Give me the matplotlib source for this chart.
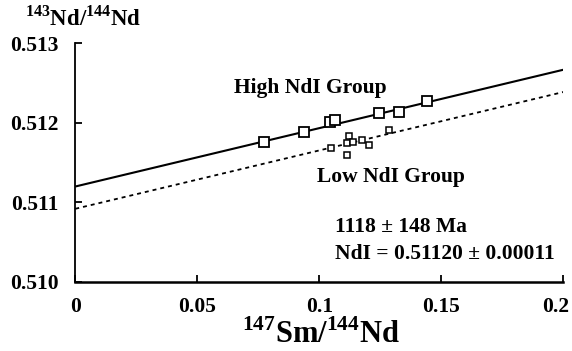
import numpy as np
import matplotlib
matplotlib.use("Agg")
import matplotlib.pyplot as plt
from matplotlib.transforms import ScaledTranslation

# Sm-Nd isochron data
high_x = [0.0774, 0.0937, 0.1045, 0.1064, 0.1245, 0.1328, 0.1440]
high_y = [0.51176, 0.51188, 0.51201, 0.51204, 0.51212, 0.51214, 0.51227]
low_x = [0.1047, 0.1121, 0.1114, 0.1139, 0.1174, 0.1205, 0.1114, 0.1284]
low_y = [0.51169, 0.51183, 0.51175, 0.51176, 0.51178, 0.51172, 0.51160, 0.51191]

age_ma = 1118
age_err = 148
ndi_high = 0.51120
ndi_err = 0.00011
ndi_low = 0.51092
decay_const = 6.54e-12  # 147Sm decay constant (1/yr)

x_ticks = [0, 0.05, 0.1, 0.15, 0.2]
x_tick_labels = ["0", "0.05", "0.1", "0.15", "0.2"]
y_ticks = [0.510, 0.511, 0.512, 0.513]
y_tick_labels = ["0.510", "0.511", "0.512", "0.513"]

plt.rcParams["font.family"] = ["Liberation Serif", "DejaVu Serif"]
plt.rcParams["font.weight"] = "bold"
plt.rcParams["mathtext.fontset"] = "custom"
plt.rcParams["mathtext.rm"] = "Liberation Serif:bold"
plt.rcParams["mathtext.bf"] = "Liberation Serif:bold"

fig = plt.figure(figsize=(5.72, 3.51), dpi=100)
ax = fig.add_axes([0.1316, 0.1966, 0.9848 - 0.1316, 0.8766 - 0.1966])

slope = np.exp(decay_const * age_ma * 1e6) - 1
xl = np.array([0.0, 0.2])
ax.plot(xl, ndi_high + slope * xl, color="black", lw=1.5, solid_capstyle="butt")
ax.plot(xl, ndi_low + slope * xl, color="black", lw=1.3, linestyle=(0, (2.2, 2.2)))

ax.plot(high_x, high_y, linestyle="none", marker="s", ms=7.3,
        mfc="white", mec="black", mew=1.3, zorder=3)
ax.plot(low_x, low_y, linestyle="none", marker="s", ms=4.4,
        mfc="white", mec="black", mew=1.1, zorder=3)

ax.set_xlim(0, 0.2)
ax.set_ylim(0.510, 0.513)
ax.set_xticks(x_ticks)
ax.set_xticklabels(x_tick_labels)
ax.set_yticks(y_ticks)
ax.set_yticklabels(y_tick_labels)

for s in ["top", "right"]:
    ax.spines[s].set_visible(False)
ax.spines["left"].set_linewidth(1.3)
ax.spines["bottom"].set_linewidth(1.8)
ax.tick_params(axis="both", direction="in", length=5, width=1.3,
               labelsize=15.5)
ax.tick_params(axis="x", pad=11)
ax.tick_params(axis="y", pad=12)
for lab in ax.get_xticklabels() + ax.get_yticklabels():
    lab.set_fontweight("bold")
# keep the last x label inside the figure
last = ax.get_xticklabels()[-1]
last.set_transform(last.get_transform() + ScaledTranslation(-8 / 100, 0, fig.dpi_scale_trans))

fs = 15.5
ax.text(0.0650, 0.512437, "High NdI Group", fontsize=fs, fontweight="bold",
        ha="left", va="center")
ax.text(0.0991, 0.511320, "Low NdI Group", fontsize=fs, fontweight="bold",
        ha="left", va="center")
ax.text(0.1063, 0.510690, f"{age_ma} \u00b1 {age_err} Ma", fontsize=fs,
        fontweight="bold", ha="left", va="center")
ax.text(0.1063, 0.510350, f"NdI = {ndi_high:.5f} \u00b1 {ndi_err:.5f}",
        fontsize=fs, fontweight="bold", ha="left", va="center")

fig.text(25 / 572, 1 - 18 / 351, r"$^{143}\mathrm{Nd/}^{144}\mathrm{Nd}$",
         fontsize=16.5, ha="left", va="center")
fig.text(321 / 572, 1 - 335 / 351, r"$^{147}\mathrm{Sm/}^{144}\mathrm{Nd}$",
         fontsize=22, ha="center", va="center")

fig.savefig("out.png", dpi=100)
